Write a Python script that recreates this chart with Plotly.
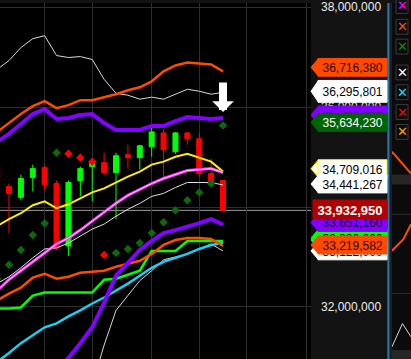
import plotly.graph_objects as go

W, H = 411, 359
M = 1e6  # values below are in millions

bars = list(range(-1, 19))

# candles (millions)
opens  = [34.809, 34.412, 34.194, 34.591, 34.789, 34.471, 33.221, 34.531, 34.809, 34.888,
          34.690, 35.047, 34.988, 35.206, 35.484, 35.107, 35.484, 35.365, 34.670, 34.531]
highs  = [34.908, 34.471, 34.650, 34.849, 34.849, 34.531, 34.531, 34.809, 34.948, 35.087,
          35.087, 35.246, 35.246, 35.603, 35.563, 35.504, 35.504, 35.484, 34.968, 34.531]
lows   = [34.352, 33.479, 34.134, 34.313, 34.332, 33.141, 33.022, 34.213, 34.114, 34.650,
          33.757, 34.769, 34.749, 35.007, 34.591, 35.067, 35.246, 34.610, 34.471, 33.933]
closes = [34.531, 34.273, 34.571, 34.769, 34.452, 33.181, 34.491, 34.769, 34.888, 34.690,
          35.027, 34.988, 35.226, 35.504, 35.146, 35.484, 35.365, 34.670, 34.491, 33.93295]

# indicator lines (millions)
upper_white  = [36.754, 36.933, 37.191, 37.370, 37.429, 37.032, 36.993, 37.012, 36.953, 36.556,
                36.278, 36.238, 36.159, 36.199, 36.159, 36.258, 36.357, 36.318, 36.258, 36.295801]
upper_orange = [35.504, 35.682, 35.861, 36.020, 36.119, 35.980, 36.040, 36.139, 36.139, 36.199,
                36.258, 36.337, 36.397, 36.516, 36.715, 36.834, 36.893, 36.873, 36.854, 36.71638]
upper_purple = [35.305, 35.464, 35.663, 35.861, 35.960, 35.762, 35.782, 35.841, 35.861, 35.682,
                35.543, 35.543, 35.543, 35.623, 35.623, 35.722, 35.801, 35.782, 35.762, 35.782]
yellow_line  = [33.618, 33.757, 33.876, 34.035, 34.114, 33.975, 34.055, 34.174, 34.293, 34.372,
                34.491, 34.610, 34.710, 34.849, 34.908, 35.007, 35.067, 34.988, 34.908, 34.709016]
pink_line    = [32.328, 32.546, 32.725, 32.903, 33.082, 33.261, 33.380, 33.538, 33.717, 33.896,
                34.074, 34.233, 34.352, 34.471, 34.571, 34.650, 34.730, 34.749, 34.769, 34.690]
mid_white    = [32.467, 32.605, 32.784, 32.983, 33.161, 33.181, 33.280, 33.419, 33.558, 33.658,
                33.816, 33.955, 34.074, 34.213, 34.273, 34.392, 34.491, 34.491, 34.491, 34.441267]
lower_orange = [32.129, 32.268, 32.387, 32.586, 32.665, 32.566, 32.605, 32.685, 32.705, 32.725,
                32.804, 32.864, 32.923, 33.062, 33.241, 33.340, 33.380, 33.380, 33.360, 33.219582]
green_line   = [31.970, 31.970, 31.990, 32.228, 32.288, 32.288, 32.288, 32.288, 32.288, 32.546,
                32.566, 32.645, 32.725, 33.122, 33.122, 33.122, 33.320, 33.320, 33.320, 33.320]
cyan_line    = [30.898, 31.077, 31.275, 31.434, 31.593, 31.672, 31.811, 31.931, 32.069, 32.189,
                32.328, 32.467, 32.625, 32.784, 32.903, 32.983, 33.062, 33.161, 33.241, 33.280]
lower_purple = [None, None, None, None, None, 30.640, 30.978, 31.275, 31.593, 32.089,
                32.625, 32.883, 33.141, 33.320, 33.479, 33.538, 33.598, 33.677, 33.757, 33.65116]
lower_white  = [None, None, None, None, None, None, None, None, 30.442, 31.236,
                31.931, 32.228, 32.526, 32.725, 32.943, 33.002, 33.062, 33.161, 33.261, 33.122]

# parabolic SAR dots (millions) and their state
sar_values = [32.566, 32.844, 33.141, 33.439, 33.677, 35.087, 35.067, 34.988, 34.908, 33.042,
              33.082, 33.161, 33.280, 33.479, 33.697, 33.935, 34.134, 34.293, 34.471, 35.63423]
sar_state  = ['up', 'up', 'up', 'up', 'up', 'up', 'down', 'down', 'down', 'down',
              'up', 'up', 'up', 'up', 'up', 'up', 'up', 'up', 'up', 'up']

arrow_tip = 35.90  # where the white signal arrow points (millions)

y_ticks = [32, 34, 36, 38]
x_grid = [3, 7, 12, 16, 20, 25]
y_range = [30.958, 38.084]
x_range = [-0.757, 25.40]

# small side panel series (normalised units)
side1_orange = [0.70, 0.03]
side2_orange = [0.60, 0.67, 0.76]
side2_white = [0.02, 0.16, 0.08]


def mv(a):
    return [None if v is None else v * M for v in a]


fig = go.Figure()

fig.add_trace(go.Candlestick(
    x=bars, open=mv(opens), high=mv(highs), low=mv(lows), close=mv(closes),
    increasing=dict(line=dict(color='#00ff00', width=1), fillcolor='#00ff00'),
    decreasing=dict(line=dict(color='#ff0000', width=1), fillcolor='#ff0000'),
    whiskerwidth=0, hoverinfo='skip', showlegend=False))


def add_line(vals, color, width):
    fig.add_trace(go.Scatter(x=bars, y=mv(vals), mode='lines',
                             line=dict(color=color, width=width),
                             hoverinfo='skip', showlegend=False, connectgaps=False))


add_line(upper_white, '#d8d8d8', 1)
add_line(mid_white, '#e0e0e0', 1)
add_line(lower_white, '#d8d8d8', 1)
add_line(cyan_line, '#18d0f0', 2.5)
add_line(green_line, '#00ff00', 2.5)
add_line(lower_orange, '#ff4a00', 2.5)
add_line(upper_orange, '#ff4a00', 2.5)
add_line(upper_purple, '#8400ff', 4)
add_line(lower_purple, '#8400ff', 4)
add_line(yellow_line, '#ffee00', 2)
add_line(pink_line, '#ff33ff', 3)
add_line(pink_line, '#ffd0ff', 1)

sar_colors = ['#0b6b0b' if s == 'up' else '#ff0000' for s in sar_state]
fig.add_trace(go.Scatter(x=bars, y=mv(sar_values), mode='markers',
                         marker=dict(symbol='diamond', size=6.5, color=sar_colors,
                                     line=dict(width=0)),
                         hoverinfo='skip', showlegend=False))

# side panel traces
fig.add_trace(go.Scatter(x=[0, 1], y=side1_orange, xaxis='x2', yaxis='y2', mode='lines',
                         line=dict(color='#ff4a00', width=2), hoverinfo='skip', showlegend=False))
fig.add_trace(go.Scatter(x=[0, 0.6, 1], y=side2_orange, xaxis='x3', yaxis='y3', mode='lines',
                         line=dict(color='#ff4a00', width=2), hoverinfo='skip', showlegend=False))
fig.add_trace(go.Scatter(x=[0, 0.55, 1], y=side2_white, xaxis='x3', yaxis='y3', mode='lines',
                         line=dict(color='#d8d8d8', width=1), hoverinfo='skip', showlegend=False))

shapes = []
annotations = []
upp = (y_range[1] - y_range[0]) * M / H  # value units per pixel

# current price line
shapes.append(dict(type='line', xref='paper', yref='y', x0=0, x1=311 / W,
                   y0=closes[-1] * M, y1=closes[-1] * M,
                   line=dict(color='#9a9a9a', width=1), layer='below'))

# ---- right-hand side panel decorations
shapes += [
    dict(type='rect', xref='paper', yref='paper', x0=389.5 / W, x1=1, y0=0, y1=1,
         fillcolor='#0b0b0b', line=dict(width=0), layer='below'),
    dict(type='rect', xref='paper', yref='paper', x0=389.5 / W, x1=392 / W, y0=0, y1=1,
         fillcolor='#1e1e1e', line=dict(width=0), layer='below'),
    dict(type='rect', xref='paper', yref='paper', x0=392 / W, x1=1, y0=1 - 183 / H, y1=1 - 173 / H,
         fillcolor='#262626', line=dict(width=0), layer='below'),
    dict(type='rect', xref='paper', yref='paper', x0=392 / W, x1=1, y0=0, y1=1 - 350 / H,
         fillcolor='#262626', line=dict(width=0), layer='below'),
    dict(type='line', xref='paper', yref='paper', x0=392 / W, x1=1, y0=1 - 213 / H, y1=1 - 213 / H,
         line=dict(color='#2e2e2e', width=1), layer='below'),
    dict(type='line', xref='paper', yref='paper', x0=392 / W, x1=1, y0=1 - 293 / H, y1=1 - 293 / H,
         line=dict(color='#2e2e2e', width=1), layer='below'),
    dict(type='rect', xref='paper', yref='paper', x0=387.3 / W, x1=389.5 / W, y0=0, y1=1,
         fillcolor='#2874a6', line=dict(width=0), layer='above'),
]

icon_colors = ['#ff00ff', '#ff5000', '#0a8a0a', '#ffffff', '#00e0ff', '#ff0000', '#ffa500']
icon_rows = [3, 24, 44, 70, 90, 110, 130]
for c, r in zip(icon_colors, icon_rows):
    shapes.append(dict(type='rect', xref='paper', yref='paper', x0=396 / W, x1=408 / W,
                       y0=1 - (r + 7.5) / H, y1=1 - (r - 7.5) / H,
                       line=dict(color='#3a3a3a', width=1), fillcolor='rgba(0,0,0,0)', layer='above'))
    annotations.append(dict(xref='paper', yref='paper', x=402 / W, y=1 - r / H, text='✕',
                            showarrow=False, font=dict(color=c, size=13, family='DejaVu Sans'),
                            xanchor='center', yanchor='middle'))

# ---- price tags on the scale (drawn in order; later ones cover earlier ones)
xt, xl, xr = 311 / W, 318 / W, 387 / W
tags = [
    # value, fill, text colour, outline, pixel shift (+ = down), height px, bold, tip
    (upper_orange[-1], '#ff4a00', '#2a0800', None, -4, 18, False, True),
    (upper_white[-1], '#ffffff', '#000000', None, -1, 22, False, True),
    (upper_purple[-1], '#8400ff', '#1a0040', None, -3, 18, False, True),
    (sar_values[-1], '#006400', '#ffffff', None, -3, 18, False, True),
    (yellow_line[-1], '#ffffff', '#000000', '#ffee00', -3, 18, False, True),
    (mid_white[-1], '#ffffff', '#000000', None, -1, 18, False, True),
    (lower_white[-1], '#ffffff', '#000000', None, 0, 18, False, True),
    (cyan_line[-1], '#18d0f0', '#000000', None, -3, 18, False, True),
    (green_line[-1], '#00ff00', '#000000', None, -3, 18, False, True),
    (lower_orange[-1], '#ff4a00', '#2a0800', None, -1, 18, False, True),
    (lower_purple[-1], '#8400ff', '#1a0040', None, -2, 18, False, True),
    (closes[-1], '#b00000', '#ffffff', None, -1, 19, True, False),
]
for val, fill, tc, outline, shift, hpx, bold, tip in tags:
    cy = val * M - shift * upp
    half = hpx / 2 * upp
    lc = outline if outline else fill
    txt = f"{val * M:,.0f}"
    if tip:
        shapes.append(dict(type='path', xref='paper', yref='y',
                           path=f"M{xt},{cy} L{xl + 0.5 / W},{cy + half} L{xl + 0.5 / W},{cy - half} Z",
                           fillcolor=fill, line=dict(color=lc, width=1), layer='above'))
    x0 = xl if tip else 313 / W
    shapes.append(dict(type='rect', xref='paper', yref='y', x0=x0, x1=xr,
                       y0=cy - half, y1=cy + half, fillcolor=fill,
                       line=dict(color=lc, width=1), layer='above',
                       label=dict(text=f"<b>{txt}</b>" if bold else txt,
                                  textposition='middle center',
                                  font=dict(color=tc, size=13 if bold else 12,
                                            family='Liberation Sans'))))

# white signal arrow
annotations.append(dict(x=bars[-1], y=arrow_tip * M, xref='x', yref='y', text='',
                        showarrow=True, arrowhead=1, arrowwidth=8, arrowsize=0.45,
                        arrowcolor='#ffffff', ax=0, ay=-31))

fig.update_layout(
    width=W, height=H, margin=dict(l=0, r=0, t=0, b=0),
    paper_bgcolor='#131313', plot_bgcolor='#000000',
    font=dict(family='Liberation Sans', color='#e8e8e8'),
    showlegend=False, boxgap=0.4,
    xaxis=dict(domain=[0, 311 / W], range=x_range, tickvals=x_grid, showticklabels=False,
               showgrid=True, gridcolor='#2e2e2e', gridwidth=1, zeroline=False, ticks='',
               rangeslider=dict(visible=False), fixedrange=True),
    yaxis=dict(range=[v * M for v in y_range], side='right', tickvals=[v * M for v in y_ticks],
               tickformat=',d', showgrid=True, gridcolor='#2e2e2e', gridwidth=1,
               zeroline=False, ticks='', ticklabelstandoff=9, ticklabeloverflow='allow',
               tickfont=dict(color='#ececec', size=12, family='Liberation Sans'),
               fixedrange=True),
    xaxis2=dict(domain=[392 / W, 1], range=[0, 1], visible=False, fixedrange=True,
                anchor='y2'),
    yaxis2=dict(domain=[1 - 173 / H, 1 - 140 / H], range=[0, 1], visible=False,
                anchor='x2', fixedrange=True),
    xaxis3=dict(domain=[392 / W, 1], range=[0, 1], visible=False, fixedrange=True,
                anchor='y3'),
    yaxis3=dict(domain=[1 - 350 / H, 1 - 183 / H], range=[0, 1], visible=False,
                anchor='x3', fixedrange=True),
    shapes=shapes, annotations=annotations,
)

fig.write_html("out.html", config={'displayModeBar': False, 'staticPlot': True},
               post_script="document.body.style.margin='0';document.body.style.overflow='hidden';")
